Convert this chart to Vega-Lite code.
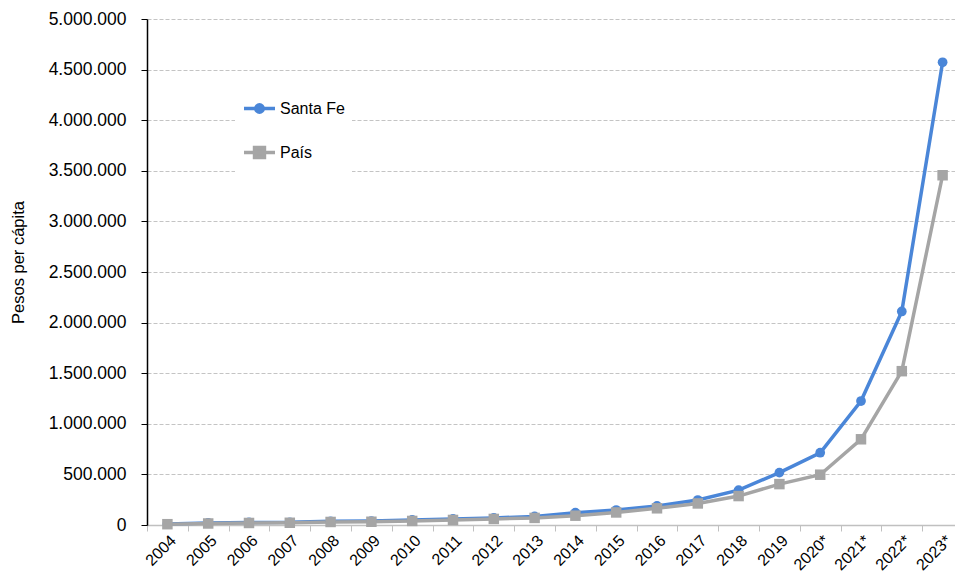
{
  "$schema": "https://vega.github.io/schema/vega-lite/v6.json",
  "width": 808,
  "height": 506,
  "autosize": {"type": "none"},
  "padding": {"left": 147, "top": 19, "right": 0, "bottom": 49},
  "config": {
    "locale": {"number": {"decimal": ",", "thousands": ".", "grouping": [3], "currency": ["$", ""]}},
    "view": {"stroke": null},
    "font": "Liberation Sans"
  },
  "data": {
    "values": [
      {"year": "2004", "series": "Santa Fe", "value": 10000},
      {"year": "2005", "series": "Santa Fe", "value": 20000},
      {"year": "2006", "series": "Santa Fe", "value": 25000},
      {"year": "2007", "series": "Santa Fe", "value": 26000},
      {"year": "2008", "series": "Santa Fe", "value": 36000},
      {"year": "2009", "series": "Santa Fe", "value": 39000},
      {"year": "2010", "series": "Santa Fe", "value": 50000},
      {"year": "2011", "series": "Santa Fe", "value": 60000},
      {"year": "2012", "series": "Santa Fe", "value": 70000},
      {"year": "2013", "series": "Santa Fe", "value": 85000},
      {"year": "2014", "series": "Santa Fe", "value": 122000},
      {"year": "2015", "series": "Santa Fe", "value": 148000},
      {"year": "2016", "series": "Santa Fe", "value": 188000},
      {"year": "2017", "series": "Santa Fe", "value": 247000},
      {"year": "2018", "series": "Santa Fe", "value": 345000},
      {"year": "2019", "series": "Santa Fe", "value": 518000},
      {"year": "2020*", "series": "Santa Fe", "value": 714000},
      {"year": "2021*", "series": "Santa Fe", "value": 1225000},
      {"year": "2022*", "series": "Santa Fe", "value": 2110000},
      {"year": "2023*", "series": "Santa Fe", "value": 4572000},
      {"year": "2004", "series": "País", "value": 8000},
      {"year": "2005", "series": "País", "value": 15000},
      {"year": "2006", "series": "País", "value": 20000},
      {"year": "2007", "series": "País", "value": 22000},
      {"year": "2008", "series": "País", "value": 30000},
      {"year": "2009", "series": "País", "value": 32000},
      {"year": "2010", "series": "País", "value": 40000},
      {"year": "2011", "series": "País", "value": 50000},
      {"year": "2012", "series": "País", "value": 60000},
      {"year": "2013", "series": "País", "value": 70000},
      {"year": "2014", "series": "País", "value": 92000},
      {"year": "2015", "series": "País", "value": 124000},
      {"year": "2016", "series": "País", "value": 165000},
      {"year": "2017", "series": "País", "value": 213000},
      {"year": "2018", "series": "País", "value": 286000},
      {"year": "2019", "series": "País", "value": 404000},
      {"year": "2020*", "series": "País", "value": 497000},
      {"year": "2021*", "series": "País", "value": 847000},
      {"year": "2022*", "series": "País", "value": 1520000},
      {"year": "2023*", "series": "País", "value": 3456000}
    ]
  },
  "encoding": {
    "x": {
      "field": "year",
      "type": "ordinal",
      "sort": null,
      "scale": {"type": "band", "range": [0, 816], "paddingInner": 0, "paddingOuter": 0},
      "axis": {
        "title": null,
        "tickBand": "extent",
        "grid": false,
        "domainColor": "#c0c0c0",
        "domainWidth": 1.5,
        "tickColor": "#c0c0c0",
        "tickSize": 6,
        "labelAngle": -45,
        "labelFontSize": 16,
        "labelColor": "black",
        "labelPadding": 1
      }
    },
    "y": {
      "field": "value",
      "type": "quantitative",
      "scale": {"domain": [0, 5000000], "nice": false},
      "axis": {
        "title": "Pesos per cápita",
        "titleFontSize": 16.5,
        "titleFontWeight": "normal",
        "titleColor": "black",
        "titleX": -129,
        "titleY": 243,
        "titleAngle": -90,
        "titleAlign": "center",
        "titleBaseline": "middle",
        "values": [0, 500000, 1000000, 1500000, 2000000, 2500000, 3000000, 3500000, 4000000, 4500000, 5000000],
        "format": ",d",
        "labelFontSize": 17.5,
        "labelColor": "black",
        "labelPadding": 15,
        "domainColor": "black",
        "domainWidth": 1.5,
        "tickColor": "black",
        "tickSize": 6,
        "gridColor": "#c4c4c4",
        "gridDash": [4, 2],
        "gridWidth": 1
      }
    },
    "color": {
      "field": "series",
      "type": "nominal",
      "sort": ["Santa Fe", "País"],
      "scale": {"domain": ["Santa Fe", "País"], "range": ["#4a86d8", "#a5a5a5"]},
      "legend": {
        "title": null,
        "orient": "none",
        "legendX": 88,
        "legendY": 65,
        "fillColor": "white",
        "padding": 7,
        "rowPadding": 15,
        "labelFontSize": 16,
        "labelColor": "black",
        "labelOffset": 3,
        "symbolSize": 961,
        "symbolStrokeWidth": 3.5,
        "encode": {
          "symbols": {
            "update": {
              "shape": {"signal": "datum.value === 'Santa Fe' ? 'M-1,0H1M-0.24,0A0.24,0.24,0,1,1,0.24,0A0.24,0.24,0,1,1,-0.24,0Z' : 'M-1,0H1M-0.32,-0.32H0.32V0.32H-0.32Z'"},
              "fill": {"signal": "datum.value === 'Santa Fe' ? '#4a86d8' : '#a5a5a5'"},
              "stroke": {"signal": "datum.value === 'Santa Fe' ? '#4a86d8' : '#a5a5a5'"},
              "strokeWidth": {"value": 3.5},
              "opacity": {"value": 1}
            }
          }
        }
      }
    }
  },
  "layer": [
    {"mark": {"type": "line", "strokeWidth": 3.5}},
    {
      "mark": {"type": "point", "filled": true, "opacity": 1},
      "encoding": {
        "shape": {"condition": {"test": "datum.series === 'País'", "value": "square"}, "value": "circle"},
        "size": {"condition": {"test": "datum.series === 'País'", "value": 110}, "value": 95}
      }
    }
  ]
}
